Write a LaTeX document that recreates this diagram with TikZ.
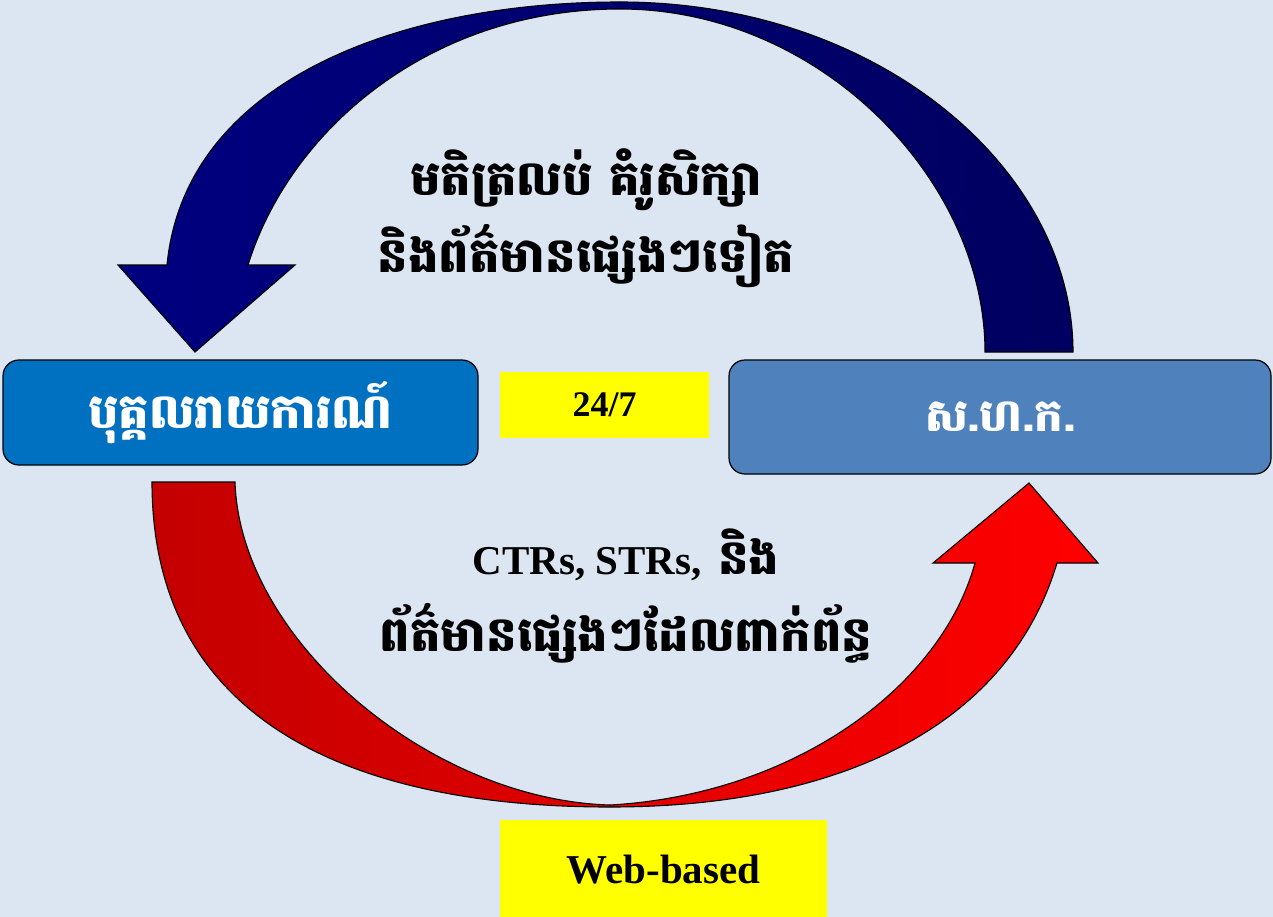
\documentclass[tikz,border=0pt]{standalone}
\usepackage{fontspec}
\setmainfont{Liberation Serif}
\newfontfamily\khmer[Script=Khmer]{Battambang}
\definecolor{bg}{RGB}{220,230,242}
\definecolor{navyL}{RGB}{0,0,128}
\definecolor{navyR}{RGB}{0,0,96}
\definecolor{redL}{RGB}{196,0,0}
\definecolor{redR}{RGB}{255,0,0}
\definecolor{boxA}{RGB}{0,112,192}
\definecolor{boxB}{RGB}{79,129,189}
\definecolor{yel}{RGB}{255,255,0}
\tikzset{
  bluebox/.style={draw=black, line width=1.2pt, rounded corners=16pt, fill=boxA, text=white, font=\khmer\bfseries\fontsize{48}{56}\selectfont, inner sep=0pt},
  greybox/.style={draw=black, line width=1.2pt, rounded corners=16pt, fill=boxB, text=white, font=\khmer\bfseries\fontsize{45}{52}\selectfont, inner sep=0pt},
  yelbox/.style={fill=yel, draw=none, inner sep=0pt, font=\bfseries},
  lbl/.style={align=center, font=\khmer\bfseries\fontsize{48}{77}\selectfont, inner sep=0pt},
  arrowshape/.style={draw=black, line width=1.1pt, line join=miter}
}
\begin{document}
\begin{tikzpicture}[x=1pt,y=-1pt]
\fill[bg] (0,0) rectangle (1273,917);
\useasboundingbox (0,0) rectangle (1273,917);

% blue curved arrow (top)
\path[arrowshape, left color=navyL, right color=navyR]
  (1073,352) .. controls (1073,170) and (880,2) .. (620,2)
  .. controls (400,2) and (185,80) .. (167,265)
  -- (118,265) -- (195,352) -- (295,265) -- (248,265)
  .. controls (290,130) and (430,9) .. (620,9)
  .. controls (820,9) and (985,180) .. (985,352) -- cycle;

% red curved arrow (bottom)
\path[arrowshape, left color=redL, right color=redR]
  (152,482) .. controls (152,720) and (350,807) .. (610,807)
  .. controls (850,807) and (1010,720) .. (1057,563)
  -- (1098,563) -- (1029,483) -- (933,563) -- (975,563)
  .. controls (940,690) and (790,795) .. (610,805)
  .. controls (430,800) and (240,640) .. (235,482) -- cycle;

\node[bluebox, minimum width=475pt, minimum height=105pt] (rep) at (240.5,412.5) {បុគ្គលរាយការណ៍};
\node[greybox, minimum width=542pt, minimum height=114pt] (fiu) at (1000,417) {ស.ហ.ក.};
\node[yelbox, minimum width=209pt, minimum height=66pt, font=\bfseries\fontsize{36}{40}\selectfont] (h24) at (604.5,405) {24/7};
\node[yelbox, minimum width=327pt, minimum height=100pt, font=\bfseries\fontsize{41}{45}\selectfont] (web) at (663.5,870) {Web-based};

\node[lbl] (fb) at (586,218) {មតិត្រលប់ គំរូសិក្សា\\និងព័ត៌មានផ្សេងៗទៀត};
\node[lbl] (rp) at (626,596) {{\rmfamily\fontsize{41}{77}\selectfont CTRs, STRs,} និង\\ព័ត៌មានផ្សេងៗដែលពាក់ព័ន្ធ};
\end{tikzpicture}
\end{document}
